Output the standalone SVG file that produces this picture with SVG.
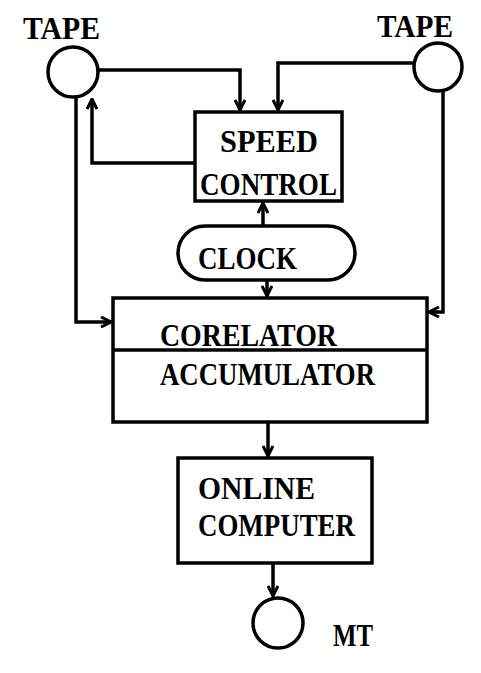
<svg xmlns="http://www.w3.org/2000/svg" width="481" height="673" viewBox="0 0 481 673">
<style>
.box{fill:none;stroke:#000;stroke-width:3.5}
.ln{fill:none;stroke:#000;stroke-width:3.5}
.t{font-family:"Liberation Serif","Times New Roman",serif;font-weight:bold;font-size:31px;fill:#000}
</style>
<defs>
<marker id="ah" viewBox="0 0 12 12" refX="11" refY="6" markerWidth="12" markerHeight="12" markerUnits="userSpaceOnUse" orient="auto">
<path d="M1,1 L11,6 L1,11" fill="none" stroke="#000" stroke-width="3"/>
</marker>
</defs>
<rect width="481" height="673" fill="#fff"/>
<g id="connectors">
<path class="ln" d="M98,70 H240 V110" marker-end="url(#ah)"/>
<path class="ln" d="M413,63 H278 V110" marker-end="url(#ah)"/>
<path class="ln" d="M195,163 H92 V99" marker-end="url(#ah)"/>
<path class="ln" d="M76,97 V322 H111" marker-end="url(#ah)"/>
<path class="ln" d="M443,91 V312 H429" marker-end="url(#ah)"/>
<path class="ln" d="M263,225 V203" marker-end="url(#ah)"/>
<path class="ln" d="M267,280 V296" marker-end="url(#ah)"/>
<path class="ln" d="M268,422 V456" marker-end="url(#ah)"/>
<path class="ln" d="M273,563 V596" marker-end="url(#ah)"/>
</g>
<g id="tape-left">
<circle class="box" cx="73" cy="72" r="25"/>
<text class="t" x="23" y="39" font-size="29" textLength="77" lengthAdjust="spacingAndGlyphs">TAPE</text>
</g>
<g id="tape-right">
<circle class="box" cx="438" cy="67" r="24"/>
<text class="t" x="377" y="37" font-size="29" textLength="76" lengthAdjust="spacingAndGlyphs">TAPE</text>
</g>
<g id="speed-control">
<rect class="box" x="195" y="112" width="147" height="89"/>
<text class="t" x="220" y="152" textLength="98" lengthAdjust="spacingAndGlyphs">SPEED</text>
<text class="t" x="200" y="195" textLength="137" lengthAdjust="spacingAndGlyphs">CONTROL</text>
</g>
<g id="clock">
<rect class="box" x="178" y="226" width="177" height="54" rx="27"/>
<text class="t" x="198" y="269" textLength="99" lengthAdjust="spacingAndGlyphs">CLOCK</text>
</g>
<g id="corelator-accumulator">
<rect class="box" x="113" y="298" width="314" height="124"/>
<line class="box" x1="113" y1="350" x2="427" y2="350"/>
<text class="t" x="160" y="346" textLength="177" lengthAdjust="spacingAndGlyphs">CORELATOR</text>
<text class="t" x="160" y="385" textLength="215" lengthAdjust="spacingAndGlyphs">ACCUMULATOR</text>
</g>
<g id="online-computer">
<rect class="box" x="178" y="458" width="194" height="105"/>
<text class="t" x="198" y="499" textLength="117" lengthAdjust="spacingAndGlyphs">ONLINE</text>
<text class="t" x="198" y="536" textLength="157" lengthAdjust="spacingAndGlyphs">COMPUTER</text>
</g>
<g id="mt">
<circle class="box" cx="278" cy="623" r="25"/>
<text class="t" x="333" y="646" font-size="28" textLength="40" lengthAdjust="spacingAndGlyphs">MT</text>
</g>
</svg>
